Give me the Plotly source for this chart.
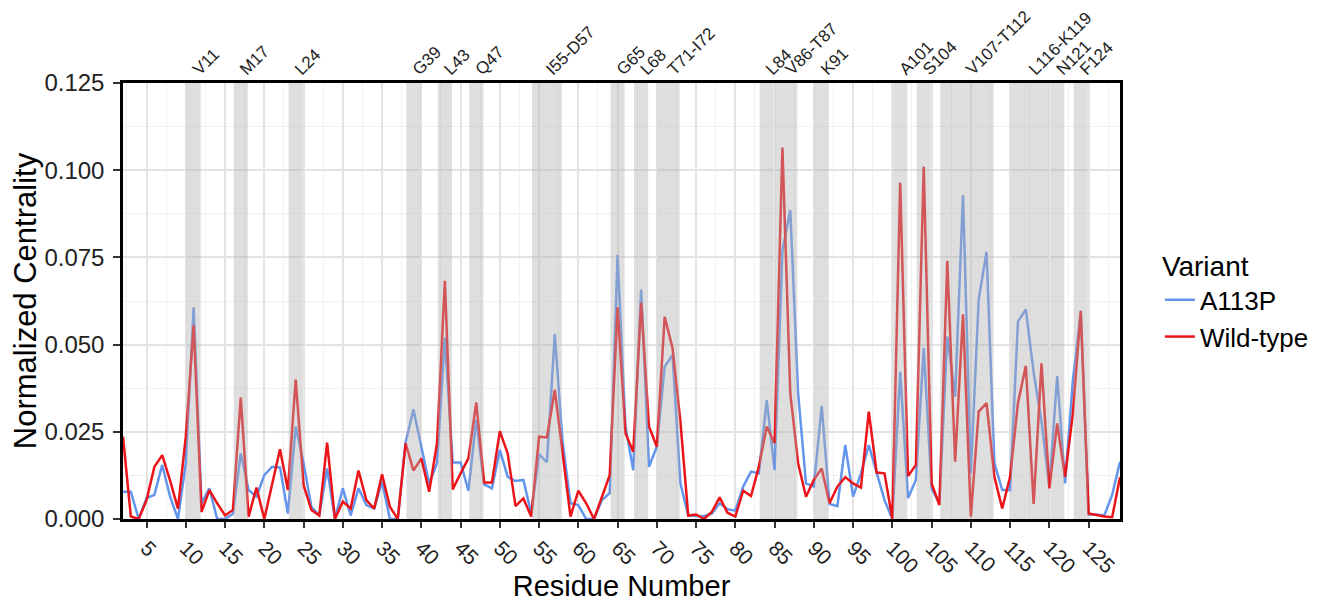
import plotly.graph_objects as go

# residue numbers shown on the chart
residues = list(range(2, 130))

# normalized centrality per residue
a113p = [
    0.0078, 0.0078, 0.0, 0.006, 0.0069, 0.0155, 0.0064, 0.0, 0.016, 0.0607,
    0.0045, 0.0088, 0.0, 0.0, 0.0015, 0.0188, 0.0083, 0.0064, 0.0126, 0.015,
    0.0148, 0.0016, 0.0265, 0.016, 0.0035, 0.001, 0.0145, 0.0, 0.0088, 0.001,
    0.0088, 0.004, 0.003, 0.0107, 0.0, 0.0, 0.022, 0.0314, 0.0207, 0.0102,
    0.016, 0.052, 0.0162, 0.0162, 0.0081, 0.0284, 0.0099, 0.0088, 0.0198, 0.0121,
    0.0109, 0.0112, 0.0016, 0.0186, 0.0162, 0.053, 0.022, 0.0045, 0.004, 0.0,
    0.0, 0.0054, 0.0074, 0.0757, 0.0265, 0.014, 0.0658, 0.015, 0.0207, 0.0437,
    0.047, 0.0102, 0.001, 0.001, 0.0008, 0.0015, 0.0045, 0.0028, 0.0024, 0.0093,
    0.0136, 0.0131, 0.0341, 0.014, 0.077, 0.0886, 0.036, 0.0102, 0.0093, 0.0324,
    0.0043, 0.0037, 0.0212, 0.0064, 0.0131, 0.0212, 0.0129, 0.0054, 0.0, 0.0422,
    0.006, 0.0112, 0.049, 0.0088, 0.0045, 0.0523, 0.0351, 0.0929, 0.0131, 0.063,
    0.0766, 0.016, 0.0083, 0.0083, 0.0566, 0.0601, 0.042, 0.028, 0.0093, 0.041,
    0.0102, 0.0399, 0.059, 0.0013, 0.0013, 0.001, 0.0069, 0.0164,
]
wild_type = [
    0.0236, 0.0007, 0.0, 0.0054, 0.015, 0.0183, 0.011, 0.003, 0.0236, 0.0556,
    0.002, 0.0083, 0.0045, 0.001, 0.0026, 0.0348, 0.0007, 0.009, 0.0, 0.0102,
    0.020, 0.0083, 0.040, 0.0097, 0.0026, 0.001, 0.0219, 0.0, 0.005, 0.003,
    0.0139, 0.0054, 0.003, 0.0128, 0.0035, 0.0, 0.0217, 0.0139, 0.0174, 0.0078,
    0.0217, 0.0683, 0.0085, 0.0131, 0.0174, 0.0334, 0.0105, 0.0105, 0.0252, 0.0188,
    0.0037, 0.0059, 0.0007, 0.0236, 0.0234, 0.037, 0.019, 0.0007, 0.0081, 0.0045,
    0.0, 0.0066, 0.0126, 0.0607, 0.0246, 0.0193, 0.062, 0.0265, 0.0207, 0.058,
    0.049, 0.028, 0.001, 0.0013, 0.0, 0.002, 0.0062, 0.0018, 0.0007, 0.0081,
    0.0066, 0.015, 0.0265, 0.0217, 0.1065, 0.036, 0.016, 0.0064, 0.0112, 0.0145,
    0.0045, 0.0093, 0.012, 0.0102, 0.009, 0.0308, 0.0133, 0.0131, 0.0, 0.0964,
    0.0123, 0.0155, 0.101, 0.0102, 0.004, 0.074, 0.0164, 0.0587, 0.0007, 0.0308,
    0.0332, 0.0121, 0.003, 0.0121, 0.0332, 0.0439, 0.0043, 0.0446, 0.0088, 0.0274,
    0.0121, 0.0303, 0.0597, 0.0016, 0.0011, 0.0007, 0.0005, 0.012,
]

# highlighted residues (start, end) and their labels
site_ranges = [
    (11, 11), (17, 17), (24, 24), (39, 39), (43, 43), (47, 47), (55, 57),
    (65, 65), (68, 68), (71, 72), (84, 84), (86, 87), (91, 91), (101, 101),
    (104, 104), (107, 112), (116, 119), (121, 121), (124, 124),
]
site_labels = [
    "V11", "M17", "L24", "G39", "L43", "Q47", "I55-D57", "G65", "L68",
    "T71-I72", "L84", "V86-T87", "K91", "A101", "S104", "V107-T112",
    "L116-K119", "N121", "F124",
]

FONT = "Liberation Sans, Arial, sans-serif"
x_range = [residues[0], residues[-1]]

fig = go.Figure()
fig.add_trace(go.Scatter(
    x=residues, y=a113p, mode="lines", name="A113P",
    line=dict(color="#6495ED", width=2.5),
))
fig.add_trace(go.Scatter(
    x=residues, y=wild_type, mode="lines", name="Wild-type",
    line=dict(color="rgba(235,20,25,1)", width=2.5),
))

# grey shading over highlighted residues (drawn above lines, semi-transparent)
for start, end in site_ranges:
    fig.add_vrect(
        x0=start - 0.9, x1=end + 0.9,
        fillcolor="rgba(176,176,176,0.42)", line_width=0, layer="above",
    )

centers = [(s + e) / 2 for s, e in site_ranges]

# page body has an 8px margin, so the figure is a bit smaller than the window
fig.update_layout(
    width=1329,
    height=594,
    margin=dict(l=115, r=217, t=75, b=83),
    paper_bgcolor="white",
    plot_bgcolor="white",
    font=dict(family=FONT, color="black"),
    showlegend=True,
    legend=dict(
        title=dict(text="Variant", font=dict(size=28)),
        font=dict(size=26),
        x=1.04, y=0.64, xanchor="left", yanchor="top",
        tracegroupgap=0,
    ),
    xaxis=dict(
        range=x_range,
        automargin=False,
        tickmode="linear", tick0=0, dtick=5,
        tickangle=45,
        tickfont=dict(size=21, color="#222"),
        ticks="outside", ticklen=6, tickwidth=2, tickcolor="#333",
        showgrid=True, gridcolor="#e3e3e3", gridwidth=1.5,
        minor=dict(dtick=2.5, showgrid=True, gridcolor="#f1f1f1", gridwidth=1),
        showline=True, linecolor="black", linewidth=2.5, mirror=True,
        zeroline=False,
        title=dict(text="Residue Number", font=dict(size=29)),
    ),
    xaxis2=dict(
        range=x_range,
        automargin=False,
        overlaying="x", side="top", matches="x",
        tickmode="array", tickvals=centers, ticktext=site_labels,
        tickangle=-45, tickfont=dict(size=17, color="#222"),
        ticks="", showgrid=False, showline=False, zeroline=False,
    ),
    yaxis=dict(
        range=[0, 0.125],
        automargin=False,
        tickmode="linear", tick0=0, dtick=0.025, tickformat=".3f",
        tickfont=dict(size=24, color="#222"),
        ticks="outside", ticklen=7, tickwidth=2, tickcolor="#333",
        ticklabelstandoff=4,
        showgrid=True, gridcolor="#e3e3e3", gridwidth=1.5,
        minor=dict(dtick=0.0125, showgrid=True, gridcolor="#f1f1f1", gridwidth=1),
        showline=True, linecolor="black", linewidth=2.5, mirror=True,
        zeroline=False,
        title=dict(text="Normalized Centrality", font=dict(size=31)),
    ),
)

# invisible trace so the top axis is drawn
fig.add_trace(go.Scatter(
    x=[x_range[0]], y=[0], xaxis="x2", mode="markers",
    marker=dict(opacity=0), showlegend=False, hoverinfo="skip",
))

fig.write_html("out.html")
